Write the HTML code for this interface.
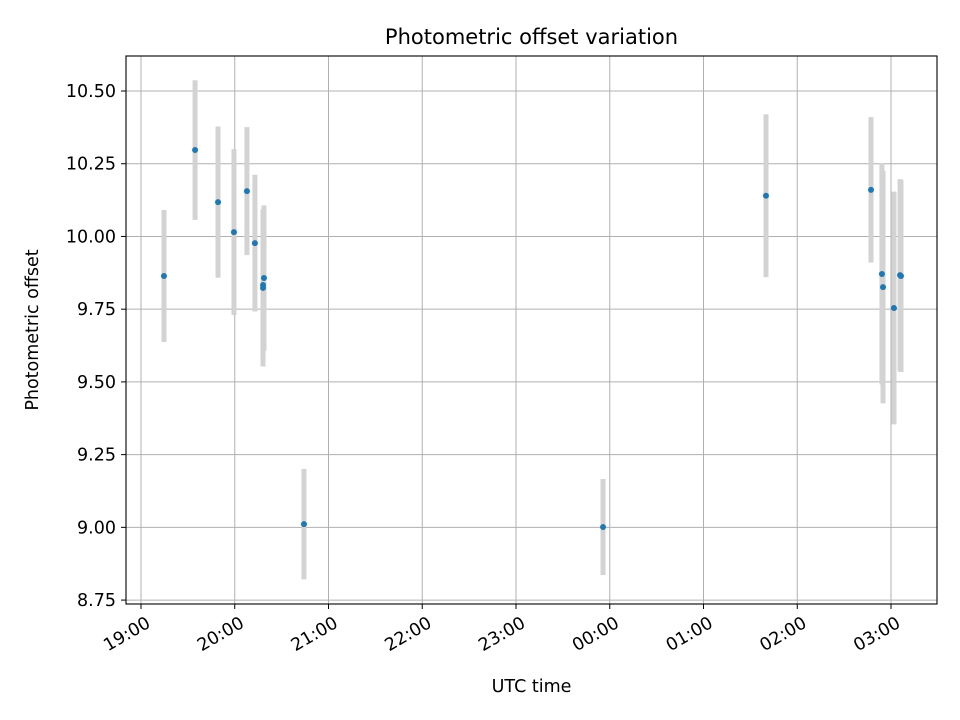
<!DOCTYPE html>
<html><head><meta charset="utf-8"><style>
body{margin:0;background:#fff}
svg{display:block;font-family:"DejaVu Sans","Liberation Sans",sans-serif}
</style></head><body>
<svg id="chart" width="960" height="720" viewBox="0 0 960 720">
<rect width="960" height="720" fill="#fff"/>
<g id="grid"></g><g id="errs"></g><g id="pts"></g>
<rect x="126" y="56" width="811" height="548" fill="none" stroke="#000" stroke-width="1.1"/>
<g id="axes"></g>
<text x="531.5" y="44" style="font-size:21px" text-anchor="middle">Photometric offset variation</text>
<text x="531.5" y="692" style="font-size:17.5px" text-anchor="middle">UTC time</text>
<text transform="translate(38,330) rotate(-90)" style="font-size:17.5px" text-anchor="middle">Photometric offset</text>
</svg>
<script>
// minutes since 19:00 UTC
const times=[14.7,34.6,49.3,59.5,67.8,72.9,78.7,78.1,78.1,104.3,295.7,400.0,467.2,474.2,474.9,481.9,485.8,486.4];
const offsets=[9.864,10.297,10.118,10.015,10.156,9.977,9.857,9.833,9.823,9.011,9.001,10.14,10.16,9.871,9.826,9.754,9.867,9.864];
const errors=[0.227,0.24,0.26,0.285,0.22,0.235,0.25,0.25,0.27,0.19,0.165,0.28,0.25,0.38,0.40,0.40,0.33,0.33];
const yTicks=[8.75,9.00,9.25,9.50,9.75,10.00,10.25,10.50];
const xTickLabels=["19:00","20:00","21:00","22:00","23:00","00:00","01:00","02:00","03:00"];
const NS="http://www.w3.org/2000/svg";
const X=m=>141+m*93.75/60;
const Y=v=>91+(10.5-v)*290.9;
function mk(t,a,p){const e=document.createElementNS(NS,t);for(const k in a)e.setAttribute(k,a[k]);p.appendChild(e);return e;}
const grid=document.getElementById('grid'),axes=document.getElementById('axes');
yTicks.forEach(v=>{const y=Y(v);
const g=mk('line',{x1:126,x2:937,y1:y,y2:y,stroke:'#b0b0b0','stroke-width':1},grid);


mk('line',{x1:121,x2:126,y1:y,y2:y,stroke:'#000','stroke-width':1},axes);
const t=mk('text',{x:116,y:y+6,style:'font-size:17.5px','text-anchor':'end'},axes);t.textContent=v.toFixed(2);

});
xTickLabels.forEach((s,i)=>{const x=X(i*60);
const g=mk('line',{x1:x,x2:x,y1:56,y2:604,stroke:'#b0b0b0','stroke-width':1},grid);


mk('line',{x1:x,x2:x,y1:604,y2:609,stroke:'#000','stroke-width':1},axes);
const t=mk('text',{transform:`translate(${x+4},615) rotate(-30)`,style:'font-size:17.5px','text-anchor':'end',dy:'0.75em'},axes);t.textContent=s;

});
const errs=document.getElementById('errs'),pts=document.getElementById('pts');
times.forEach((m,i)=>{const x=X(m);
const e=mk('line',{x1:x,x2:x,y1:Y(offsets[i]+errors[i]),y2:Y(offsets[i]-errors[i]),stroke:'#d3d3d3','stroke-width':5},errs);


const c=mk('circle',{cx:x,cy:Y(offsets[i]),r:3,fill:'#1f77b4'},pts);

});
</script>
</body></html>
